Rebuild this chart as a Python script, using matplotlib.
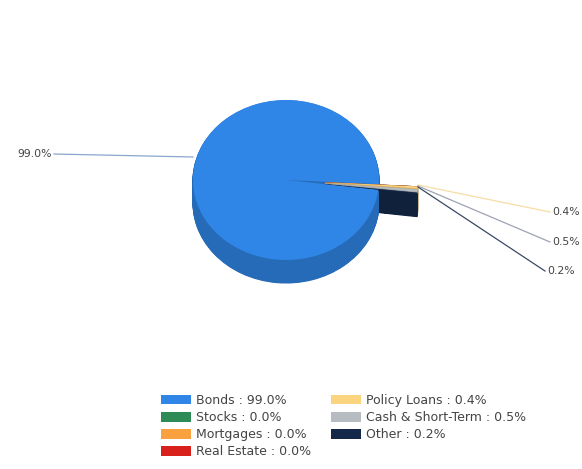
import matplotlib
matplotlib.use("Agg")
import matplotlib.pyplot as plt
from matplotlib.patches import Rectangle
import matplotlib.colors as mcolors

categories = ["Bonds", "Stocks", "Mortgages", "Real Estate", "Policy Loans", "Cash & Short-Term", "Other"]
values = [99.0, 0.0, 0.0, 0.0, 0.4, 0.5, 0.2]
colors = ["#2F86E6", "#2E8B57", "#F9A03F", "#D7211A", "#FAD47E", "#B7BBC2", "#14294A"]
explode = [0.0, 0.42, 0.42, 0.42, 0.42, 0.42, 0.42]

W, H = 582, 469
fig = plt.figure(figsize=(W / 100, H / 100), dpi=100)
fig.patch.set_facecolor("white")

# pie geometry (pixels)
cx, cy, rx, ry, depth = 286, 180, 93, 80, 23
ax = fig.add_axes([(cx - rx) / W, 1 - (cy + ry) / H, 2 * rx / W, 2 * ry / H])

def darker(c, f=0.8):
    r, g, b = mcolors.to_rgb(c)
    return (r * f, g * f, b * f)

side_colors = [darker(c) for c in colors]
startangle = -7
nlayers = 30
d_units = depth / ry
for i in range(nlayers, 0, -1):
    off = d_units * i / nlayers
    wedges, _ = ax.pie(values, colors=side_colors, startangle=startangle, explode=explode,
                       counterclock=False, center=(0, -off), radius=1,
                       wedgeprops=dict(linewidth=0.8))
    for w, sc in zip(wedges, side_colors):
        w.set_edgecolor(sc)
        w.set_clip_on(False)
wedges, _ = ax.pie(values, colors=colors, startangle=startangle, explode=explode,
                   counterclock=False, center=(0, 0), radius=1,
                   wedgeprops=dict(linewidth=0))
for w in wedges:
    w.set_clip_on(False)
ax.set_xlim(-1, 1)
ax.set_ylim(-1, 1)
ax.set_aspect("auto")
ax.axis("off")

# overlay axes in pixel coordinates for labels
ov = fig.add_axes([0, 0, 1, 1], facecolor="none")
ov.set_xlim(0, W)
ov.set_ylim(H, 0)
ov.axis("off")

fam = ["DejaVu Sans"]
lbl_font = dict(fontsize=7.8, color="#444444", family=fam)

# Bonds label
ov.plot([54, 193], [154, 157], color="#8aa6cc", lw=0.9)
ov.text(52, 154, f"{values[0]:.1f}%", ha="right", va="center", **lbl_font)

# small slice labels
small = [(4, (418, 185), (550, 212)), (5, (418, 186), (550, 242)), (6, (418, 187), (545, 271))]
line_cols = ["#F7DDA6", "#9EA3B5", "#3B4A66"]
for (idx, p0, p1), lc in zip(small, line_cols):
    ov.plot([p0[0], p1[0]], [p0[1], p1[1]], color=lc, lw=0.9)
    ov.text(p1[0] + 2, p1[1], f"{values[idx]:.1f}%", ha="left", va="center", **lbl_font)

# legend
fs = 9
handles = [Rectangle((0, 0), 1, 1, facecolor=c, edgecolor="none") for c in colors]
labels = [f"{c} : {v:.1f}%" for c, v in zip(categories, values)]
leg = fig.legend(handles, labels, ncol=2, loc="upper left",
                 bbox_to_anchor=(156 / W, 1 - 389 / H), frameon=False,
                 prop=dict(family=fam, size=fs),
                 handlelength=2.4, handleheight=0.8, handletextpad=0.4,
                 labelspacing=0.33, columnspacing=1.6, borderaxespad=0)
for t in leg.get_texts():
    t.set_color("#444444")

fig.savefig("out.png", dpi=100, facecolor="white")
